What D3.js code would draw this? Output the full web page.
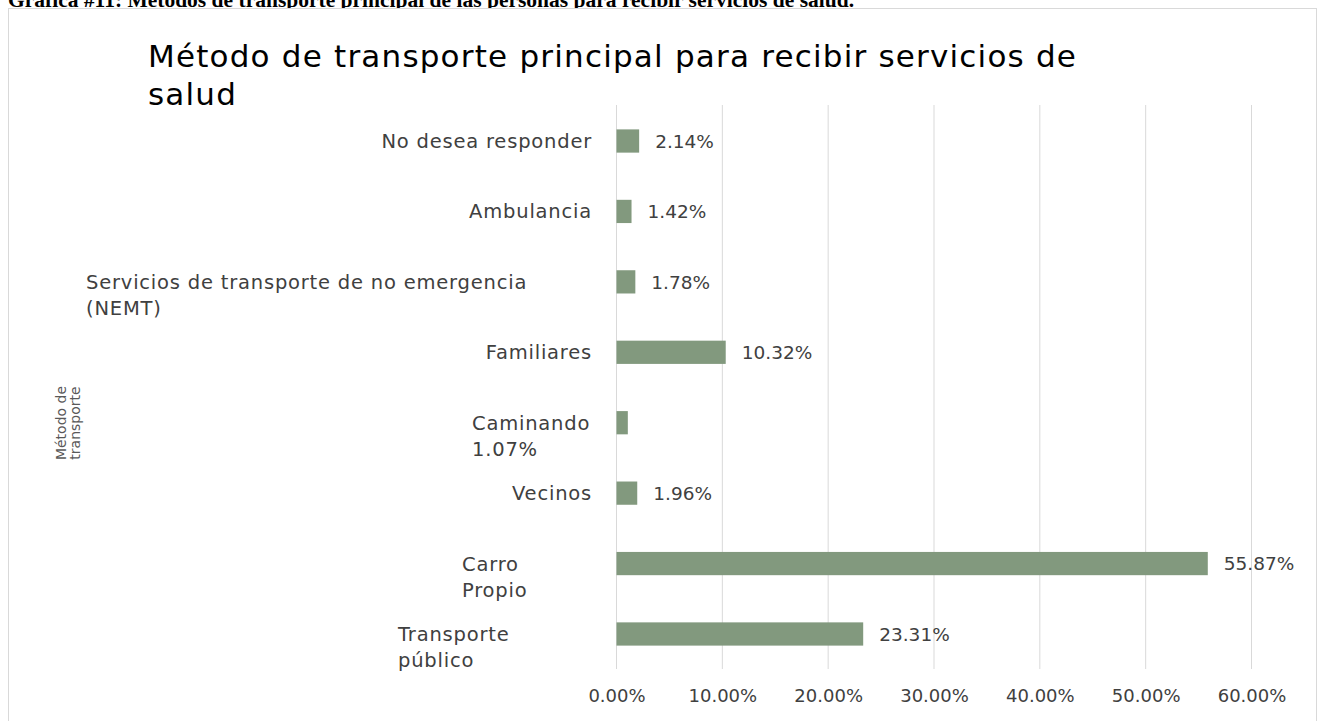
<!DOCTYPE html>
<html>
<head>
<meta charset="utf-8">
<script src="https://cdn.jsdelivr.net/npm/d3@7"></script>
<style>
  html, body { margin: 0; padding: 0; background: #fff; }
  svg { display: block; }
</style>
</head>
<body>
<svg id="chart" width="1320" height="721"></svg>
<script>
// ---- data ----
const captionText = "Gráfica #11: Métodos de transporte principal de las personas para recibir servicios de salud.";
const titleLines = ["Método de transporte principal para recibir servicios de", "salud"];
const axisTitleLines = ["Método de", "transporte"];
const categories = [
  "No desea responder",
  "Ambulancia",
  "Servicios de transporte de no emergencia (NEMT)",
  "Familiares",
  "Caminando",
  "Vecinos",
  "Carro Propio",
  "Transporte público"
];
const categoryLines = [
  ["No desea responder"],
  ["Ambulancia"],
  ["Servicios de transporte de no emergencia", "(NEMT)"],
  ["Familiares"],
  ["Caminando"],
  ["Vecinos"],
  ["Carro", "Propio"],
  ["Transporte", "público"]
];
const values = [2.14, 1.42, 1.78, 10.32, 1.07, 1.96, 55.87, 23.31];
const tickValues = [0, 10, 20, 30, 40, 50, 60];

// ---- layout (not data) ----
const multiLineLeft = { 2: 86, 4: 472, 6: 462, 7: 398 };  // left edge of wrapped labels
const dataLabelUnderCategory = [4];                       // index whose value label sits under its category name
const font = "'DejaVu Sans', Verdana, sans-serif";
const textColor = "#404040";
const barColor = "#82997e";

const svg = d3.select("#chart");

// caption (clipped at top, as in the source document)
svg.append("text")
  .attr("x", 8).attr("y", 7)
  .attr("font-family", "'Liberation Serif', 'Times New Roman', serif")
  .attr("font-weight", "bold").attr("font-size", 21.5)
  .attr("fill", "#000")
  .text(captionText);

// chart border
svg.append("rect")
  .attr("x", 8.5).attr("y", 8.5)
  .attr("width", 1308).attr("height", 730)
  .attr("fill", "#fff").attr("stroke", "#d9d9d9").attr("stroke-width", 1);

// title
svg.append("g").selectAll("text").data(titleLines).join("text")
  .attr("x", 148).attr("y", (d, i) => 67 + i * 38)
  .attr("font-family", font).attr("font-size", 31)
  .attr("letter-spacing", 1.2)
  .attr("fill", "#000")
  .text(d => d);

// scales
const x = d3.scaleLinear().domain([0, 60]).range([616.5, 1251.5]);
const y = d3.scaleBand().domain(categories).range([105.8, 669.2])
  .paddingInner(0.67).paddingOuter(0.335);

// gridlines
svg.append("g").selectAll("line").data(tickValues).join("line")
  .attr("x1", d => x(d)).attr("x2", d => x(d))
  .attr("y1", 105).attr("y2", 669)
  .attr("stroke", "#d9d9d9").attr("stroke-width", 1);

// x tick labels via axis
const xAxis = svg.append("g")
  .attr("transform", "translate(0,689)")
  .call(d3.axisBottom(x).tickValues(tickValues).tickSize(0).tickPadding(0)
    .tickFormat(d => d.toFixed(2) + "%"));
xAxis.select(".domain").remove();
xAxis.selectAll("text")
  .attr("font-family", font).attr("font-size", 18)
  .attr("fill", textColor).attr("dy", "0.71em");

// bars
svg.append("g").selectAll("rect").data(categories).join("rect")
  .attr("x", x(0))
  .attr("y", d => y(d))
  .attr("width", (d, i) => x(values[i]) - x(0))
  .attr("height", y.bandwidth())
  .attr("fill", barColor);

// data labels
svg.append("g").selectAll("text")
  .data(categories.map((c, i) => ({ c, v: values[i], i })).filter(d => !dataLabelUnderCategory.includes(d.i)))
  .join("text")
  .attr("x", d => x(d.v) + 16)
  .attr("y", d => y(d.c) + y.bandwidth() / 2)
  .attr("dy", "0.36em")
  .attr("font-family", font).attr("font-size", 18.5)
  .attr("fill", textColor)
  .text(d => d.v.toFixed(2) + "%");

// category labels
const lineGap = 26;
const catG = svg.append("g");
categories.forEach((c, i) => {
  const cy = y(c) + y.bandwidth() / 2;
  let lines = categoryLines[i].slice();
  if (dataLabelUnderCategory.includes(i)) lines.push(values[i].toFixed(2) + "%");
  const multi = lines.length > 1;
  const t = catG.append("text")
    .attr("font-family", font).attr("font-size", 19.5)
    .attr("letter-spacing", 0.8)
    .attr("fill", textColor)
    .attr("text-anchor", multi ? "start" : "end");
  lines.forEach((ln, k) => {
    t.append("tspan")
      .attr("x", multi ? multiLineLeft[i] : 592)
      .attr("y", cy + k * lineGap)
      .attr("dy", "0.36em")
      .text(ln);
  });
});

// y axis title (rotated)
const at = svg.append("text")
  .attr("transform", "translate(68,423) rotate(-90)")
  .attr("font-family", font).attr("font-size", 14)
  .attr("fill", "#595959")
  .attr("text-anchor", "middle");
axisTitleLines.forEach((ln, k) => {
  at.append("tspan").attr("x", 0).attr("y", (k - 0.5) * 14).attr("dy", "0.36em").text(ln);
});
</script>
</body>
</html>
